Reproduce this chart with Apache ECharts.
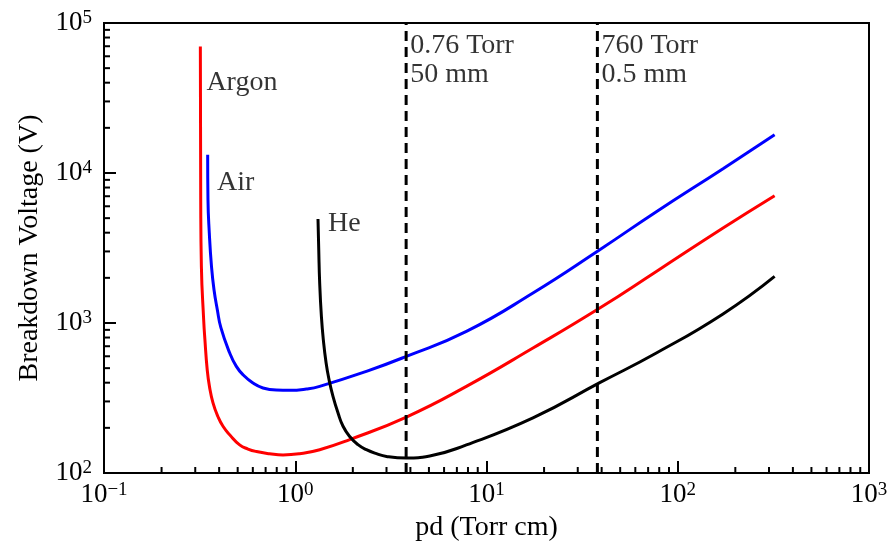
<!DOCTYPE html>
<html>
<head>
<meta charset="utf-8">
<script src="https://cdn.jsdelivr.net/npm/echarts@6/dist/echarts.min.js"></script>
<style>
html,body{margin:0;padding:0;background:#fff;}
#chart{width:892px;height:548px;}
</style>
</head>
<body>
<div id="chart"></div>
<script>
// ---- data ----
const argonPd = [0.319, 0.3204, 0.323, 0.332, 0.3370, 0.3465, 0.3559, 0.3715, 0.394, 0.419, 0.454, 0.512, 0.566, 0.627, 0.734, 0.863, 1.055, 1.342, 1.926, 3.81, 7.85, 17.5, 39.1, 77.3, 172.5, 321];
const argonV  = [69800, 6640, 2385, 1052, 774, 488, 378, 293, 238, 205, 180, 154, 144.5, 139, 134.5, 132, 134.5, 143, 167, 236, 378, 681, 1259, 2208, 4300, 7060];

const airPd = [0.3484, 0.3497, 0.3553, 0.3648, 0.3760, 0.3913, 0.4085, 0.4543, 0.492, 0.533, 0.601, 0.678, 0.796, 0.935, 1.143, 1.342, 2.355, 3.81, 7.85, 17.5, 39.1, 77.3, 172.5, 321];
const airV  = [13240, 6640, 3981, 2385, 1667, 1227, 931, 631, 514, 452, 398, 369, 357, 356, 363, 378, 476, 599, 879, 1585, 3080, 5521, 10690, 17990];

const hePd = [1.315, 1.327, 1.342, 1.370, 1.402, 1.450, 1.502, 1.575, 1.674, 1.778, 1.926, 2.128, 2.355, 2.657, 3.0, 3.81, 5.05, 7.85, 17.5, 39.1, 77.3, 172.5, 321];
const heV  = [4937, 3080, 1848, 1107, 774, 541, 419, 324, 251, 205, 175, 154.5, 143, 134.5, 129, 126, 130, 154, 233, 400, 631, 1150, 2046];

const dashPd = [3.8, 38];

const labelTexts = ['Argon', 'Air', 'He', '0.76 Torr\n50 mm', '760 Torr\n0.5 mm'];
const labelPd    = [0.343, 0.390, 1.483, 3.8, 38];
const labelV     = [40000, 8690, 4590, 56900, 56900];

const xMin = 0.1, xMax = 1000;
const yMin = 100, yMax = 100000;
const xMinorTicks = [0.2,0.3,0.4,0.5,0.6,0.7,0.8,0.9, 2,3,4,5,6,7,8,9, 20,30,40,50,60,70,80,90, 200,300,400,500,600,700,800,900];
const yMinorTicks = [200,300,400,500,600,700,800,900, 2000,3000,4000,5000,6000,7000,8000,9000, 20000,30000,40000,50000,60000,70000,80000,90000];

// ---- chart ----
const FONT = '"Liberation Serif", "DejaVu Serif", serif';
const zip = (a, b) => a.map((v, i) => [v, b[i]]);
const supLabel = v => {
  const e = Math.round(Math.log10(v));
  const s = e < 0 ? '\u2212' + (-e) : String(e);
  return '{b|10}{s|' + s + '}';
};
const rich = {
  b: {fontFamily: FONT, fontSize: 27, color: '#000', lineHeight: 28},
  s: {fontFamily: FONT, fontSize: 19, color: '#000', verticalAlign: 'top', lineHeight: 19}
};

const chart = echarts.init(document.getElementById('chart'), null, {renderer: 'canvas'});

const curveSeries = (name, xs, ys, color) => ({
  name, type: 'line', data: zip(xs, ys), showSymbol: false, smooth: 0.5,
  lineStyle: {color, width: 3}, itemStyle: {color}, z: 3, animation: false
});

const dashSeries = dashPd.map((x, i) => ({
  name: 'dash' + i, type: 'line', data: [[x, yMin], [x, yMax]], showSymbol: false,
  lineStyle: {color: '#000', width: 3, type: [10, 6]}, z: 4, animation: false
}));

const option = {
  animation: false,
  backgroundColor: '#fff',
  grid: {left: 104, right: 23, top: 23, bottom: 75, show: true, borderColor: '#000', borderWidth: 2, backgroundColor: 'transparent'},
  xAxis: {
    type: 'log', logBase: 10, min: xMin, max: xMax,
    name: 'pd (Torr cm)', nameLocation: 'middle', nameGap: 34,
    nameTextStyle: {fontFamily: FONT, fontSize: 28, color: '#000'},
    axisLine: {lineStyle: {color: '#000', width: 2}},
    axisTick: {inside: true, length: 12, lineStyle: {color: '#000', width: 2}},
    axisLabel: {formatter: supLabel, rich, margin: 8, color: '#000'},
    splitLine: {show: false}
  },
  yAxis: {
    type: 'log', logBase: 10, min: yMin, max: yMax,
    name: 'Breakdown Voltage (V)', nameLocation: 'middle', nameGap: 60, nameRotate: 90,
    nameTextStyle: {fontFamily: FONT, fontSize: 28, color: '#000'},
    axisLine: {lineStyle: {color: '#000', width: 2}},
    axisTick: {inside: true, length: 12, lineStyle: {color: '#000', width: 2}},
    axisLabel: {formatter: supLabel, rich, margin: 12, color: '#000'},
    splitLine: {show: false}
  },
  series: [
    curveSeries('Argon', argonPd, argonV, '#ff0000'),
    curveSeries('Air', airPd, airV, '#0000ff'),
    curveSeries('He', hePd, heV, '#000000'),
    ...dashSeries,
    {
      name: 'xMinor', type: 'custom', silent: true, z: 5,
      data: xMinorTicks.map(v => [v]),
      encode: {x: 0},
      renderItem: (params, api) => {
        const p = api.coord([api.value(0), yMin]);
        return {type: 'line', shape: {x1: p[0], y1: p[1], x2: p[0], y2: p[1] - 6}, style: {stroke: '#000', lineWidth: 2}};
      },
      clip: false
    },
    {
      name: 'yMinor', type: 'custom', silent: true, z: 5,
      data: yMinorTicks.map(v => [xMin, v]),
      encode: {x: 0, y: 1},
      renderItem: (params, api) => {
        const p = api.coord([xMin, api.value(1)]);
        return {type: 'line', shape: {x1: p[0], y1: p[1], x2: p[0] + 6, y2: p[1]}, style: {stroke: '#000', lineWidth: 2}};
      },
      clip: false
    },
    {
      name: 'labels', type: 'scatter', symbolSize: 0, silent: true, z: 6,
      data: labelTexts.map((t, i) => ({
        name: t, value: [labelPd[i], labelV[i]],
        label: {distance: i >= 3 ? 4 : 0}
      })),
      label: {
        show: true, position: 'right', formatter: p => p.name,
        fontFamily: FONT, fontSize: 28, color: '#000', lineHeight: 29, align: 'left', verticalAlign: 'middle'
      }
    }
  ]
};
chart.setOption(option);
</script>
</body>
</html>
